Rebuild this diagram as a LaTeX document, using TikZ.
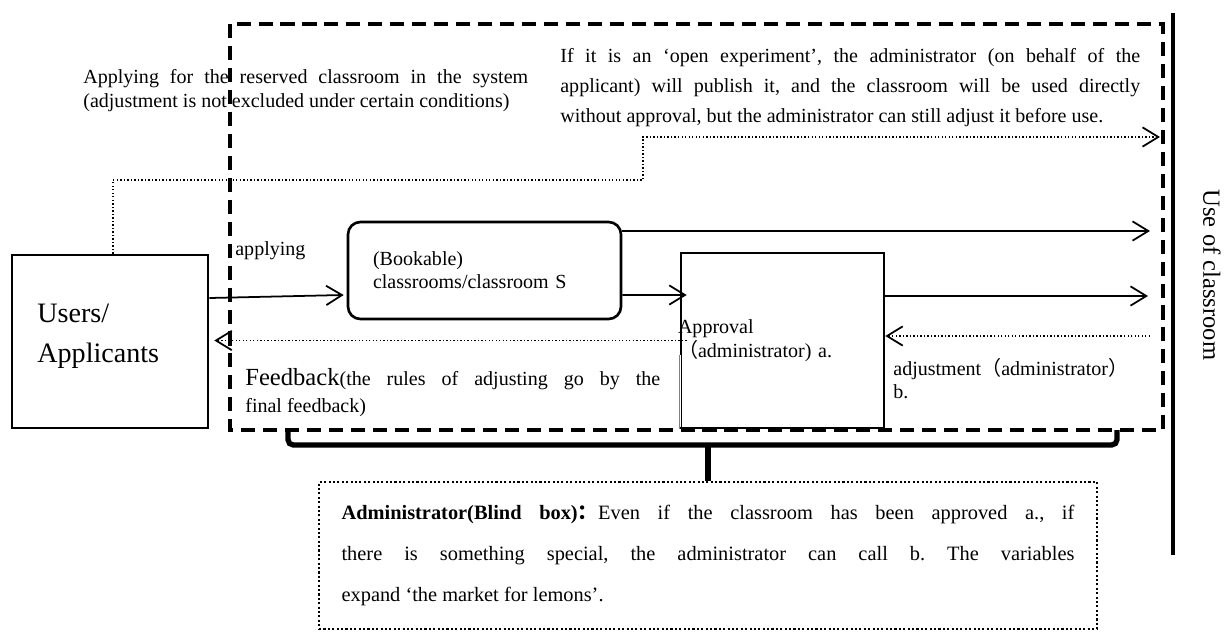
\documentclass[tikz,border=0pt]{standalone}
\usepackage{fontspec}
\setmainfont{Liberation Serif}
\newfontfamily\cjk{Noto Sans CJK SC}
\usetikzlibrary{arrows.meta}
\frenchspacing

\begin{document}
\begin{tikzpicture}[x=.02cm,y=-.02cm,
  box/.style={draw,line width=1.5pt,inner sep=0pt},
  note/.style={draw,line width=1.3pt,dash pattern=on 1.2pt off 1.3pt,inner sep=0pt},
  frame/.style={line width=2pt,dash pattern=on 8pt off 4.5pt},
  flow/.style={line width=1pt,-{Straight Barb[length=9pt,width=11pt,line width=1pt]}},
  fb/.style={line width=.8pt,dash pattern=on .8pt off 1.2pt,-{Straight Barb[length=9pt,width=11pt,line width=1pt]}},
  txt/.style={inner sep=0pt,anchor=base west,align=justify},
  lbl/.style={inner sep=0pt,anchor=base west,font=\fontsize{11.4}{13}\selectfont}]
\useasboundingbox (0,0) rectangle (1225,632);
% system frame and usage bar
\draw[frame] (230,24) rectangle (1163,430);
\draw[line width=1.8pt] (1173,13) -- (1173,555);
\node[rotate=-90,inner sep=0pt,font=\fontsize{14}{16}\selectfont] (use) at (1212,275) {Use of classroom};
% boxes
\node[box,minimum width=3.92cm,minimum height=3.46cm] (users) at (110,341.5) {};
\node[txt,text width=3cm,align=left,font=\fontsize{16}{23.3}\selectfont] (usertxt) at (37,322) {Users/\\Applicants};
\node[box,rounded corners=7pt,minimum width=5.46cm,minimum height=1.94cm,text width=4.46cm,inner xsep=.5cm,align=left,font=\fontsize{11.4}{13}\selectfont] (book) at (484.5,270.5) {(Bookable)\\classrooms/classroom S};
\node[box,minimum width=4.06cm,minimum height=3.5cm,text width=4.18cm,inner xsep=-.06cm,align=left,font=\fontsize{11.4}{13.7}\selectfont] (appr) at (782.5,340.5) {Approval\\{\cjk （}administrator) a.};
\draw[white,line width=1.7pt] ([yshift=-.29cm]appr.west) -- ([yshift=.05cm]appr.south west);
\draw[gray,line width=.5pt] ([yshift=-.29cm]appr.west) -- (appr.south west);
\node[note,minimum width=15.56cm,minimum height=2.94cm,text width=14.66cm,inner xsep=.45cm,align=justify,font=\fontsize{11.6}{23.3}\selectfont] (blind) at (708,555.5) {\textbf{Administrator(Blind box){\cjk ：}}Even if the classroom has been approved a., if\linebreak there is something special, the administrator can call b. The variables\linebreak expand ‘the market for lemons’.};
% bracket to the note
\draw[line width=3pt,rounded corners=3pt] (288,430) -- (288,445) -- (1117,445) -- (1117,430);
\draw[line width=3pt] (blind.north) -- (blind.north |- 0,445);
% texts
\node[txt,text width=8.9cm,font=\fontsize{11.4}{13.7}\selectfont] (apply) at (83,83) {Applying for the reserved classroom in the system\linebreak (adjustment is not excluded under certain conditions)};
\node[txt,text width=11.6cm,font=\fontsize{11.4}{17.3}\selectfont] (open) at (560,62) {If it is an ‘open experiment’, the administrator (on behalf of the\linebreak applicant) will publish it, and the classroom will be used directly\linebreak without approval, but the administrator can still adjust it before use.};
\node[lbl] (applying) at (235,255) {applying};
\node[txt,text width=8.3cm,font=\fontsize{11.4}{15.4}\selectfont] (feed) at (245,385) {{\fontsize{14}{15.4}\selectfont Feedback}(the rules of adjusting go by the\linebreak final feedback)};
\node[txt,text width=5cm,align=left,font=\fontsize{11.4}{13.1}\selectfont] (adj) at (893,375) {adjustment{\cjk （}administrator{\cjk ）}\\b.};
% connectors
\coordinate (use0) at (1160,137);
\coordinate (use1) at (1150,231);
\coordinate (use2) at (1148,296);
\coordinate (use3) at (1150,336);
\coordinate (bend) at (643,180);
\draw[flow] ([yshift=.87cm]users.east) -- ([yshift=-.49cm,xshift=-.06cm]book.west);
\draw[flow] (book.east |- use1) -- (use1);
\draw[flow] ([yshift=-.49cm]book.east) -- ([yshift=.91cm,xshift=.14cm]appr.west);
\draw[flow] (appr.east |- use2) -- (use2);
\draw[fb] (use3) -- (appr.east |- use3);
\draw[fb,shorten >=.1cm] ([xshift=.14cm]appr.west) -- (users.east |- appr.west);
\draw[fb] ([xshift=.06cm]users.north) |- (bend) |- (use0);
\end{tikzpicture}
\end{document}
